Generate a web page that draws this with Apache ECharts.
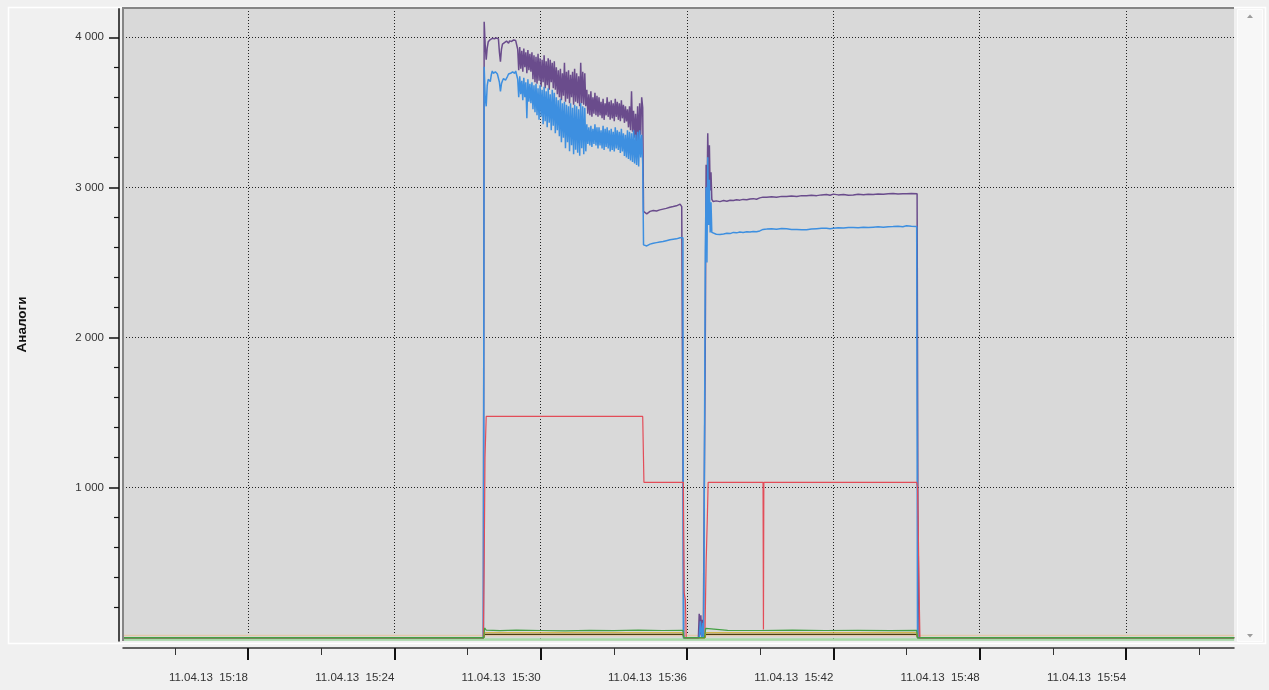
<!DOCTYPE html>
<html><head><meta charset="utf-8">
<script src="https://cdn.jsdelivr.net/npm/echarts@6/dist/echarts.min.js"></script>
<style>html,body{margin:0;padding:0;background:#f0f0f0;overflow:hidden}#c{width:1269px;height:690px}</style>
</head><body><div id="c"></div>
<script>
// ---------- texts / ticks ----------
const DATE_TEXT = '11.04.13';
const Y_NAME = 'Аналоги';
const xMajorTicks = ['15:18','15:24','15:30','15:36','15:42','15:48','15:54'];
const xMinorTicks = ['15:15','15:21','15:27','15:33','15:39','15:45','15:51','15:57'];
const yMajorTicks = [1000,2000,3000,4000];
const yMinorTicks = [200,400,600,800,1200,1400,1600,1800,2200,2400,2600,2800,3200,3400,3600,3800];
// visible range: seconds after 15:00 / values
const xRange = [772.5, 3505.6];
const yRange = [-22, 4195];

// ---------- data (time = seconds after 15:00) ----------
// first run, noisy part
const seg1Times = [1661,1663.5,1666,1668.5,1671,1673.5,1676,1678.5,1681,1683.5,1686,1688.5,1691,1693.5,1696,1698.5,
  1701,1703.5,1706,1708.5,1711,1713.5,1716,1718.5,1721,1723.5,1726,1728.5,1731,1733.5,1736,1738.5,
  1741,1743.5,1746,1748.5,1751,1753.5,1756,1758.5,1761,1763.5,1766,1768.5,1771,1773.5,1776,1778.5,
  1781,1783.5,1786,1788.5,1791,1793.5,1796,1798.5,1801,1803.5,1806,1808.5,1811,1813.5,1816,1818.5,
  1821,1823.5,1826,1828.5,1831,1833.5,1836,1838.5,1841,1843.5,1846,1848.5,1851,1853.5,1856,1858.5,
  1861,1863.5,1866,1868.5,1871,1873.5,1876,1878.5,1881,1883.5,1886,1888.5,1891,1893.5,1896,1898.5,
  1901,1903.5,1906,1908.5,1911,1913.5,1916,1918.5,1921,1923.5,1926,1928.5,1931,1933.5,1936,1938.5,
  1941,1943.5,1946,1948.5,1951,1953.5,1956,1958.5,1961,1963.5,1966,1968.5,1971,1973.5,1976,1978.5,
  1981,1983.5,1986,1988.5,1991,1993.5,1996,1998.5,2001,2003.5,2006,2008.5,2011,2013.5,2016,2018.5,
  2021,2023.5,2026,2028.5,2031,2033.5,2036,2038.5,2041,2043.5,2046,2048.5,2051];
const purpleSeg1 = [4104,3950,3850,3930,3970,3975,3985,3990,3993,3985,3990,3998,3995,3988,3990,3900,
  3838,3920,3955,3950,3965,3972,3975,3968,3960,3976,3980,3972,3970,3982,3985,3978,3990,
  3920,3780,3935,3790,3910,3770,3925,3800,3900,3760,3915,3780,3890,3770,
  3900,3720,3880,3700,3870,3690,3890,3710,3860,3670,3850,3700,3880,3660,3840,3680,3860,3650,3850,3700,3830,3660,3840,3650,
  3800,3620,3780,3600,3790,3580,3760,3610,3830,3570,3770,3590,3780,3560,3750,3600,3770,3550,3790,3570,3760,3560,3740,3540,3830,3560,3770,3550,3760,3540,
  3650,3490,3620,3480,3640,3470,3600,3490,3630,3480,3610,3470,
  3600,3480,3570,3460,3590,3450,3560,3480,3600,3470,3570,3450,3580,3460,3560,3440,3590,3470,3570,3450,3560,3440,3580,3460,3550,3430,3540,3440,
  3520,3400,3540,3380,3640,3370,3510,3330,3490,3290,3540,3280,3560,3350,3600,3530];
const blueSeg1 = [3804,3600,3540,3680,3720,3715,3705,3750,3775,3760,3755,3770,3765,3755,3760,3700,
  3640,3690,3710,3725,3735,3715,3720,3740,3755,3762,3760,3768,3770,3758,3760,3775,3780,
  3720,3600,3740,3620,3710,3580,3730,3600,3700,3460,3720,3570,3690,3560,
  3700,3520,3680,3500,3690,3480,3660,3450,3680,3470,3650,3420,3670,3440,3640,3400,3660,3430,3620,3380,3650,3410,3630,3360,
  3600,3380,3580,3340,3590,3300,3560,3330,3570,3260,3550,3300,3540,3240,3560,3280,3530,3220,3550,3250,3540,3230,3520,3210,3560,3260,3540,3220,3530,3240,
  3420,3290,3400,3280,3410,3270,3390,3290,3420,3280,3400,3260,
  3400,3280,3380,3260,3410,3250,3390,3270,3400,3260,3380,3240,3390,3250,3370,3240,3400,3260,3380,3250,3370,3230,3390,3240,3360,3210,3350,3200,
  3380,3190,3370,3180,3360,3170,3380,3160,3350,3150,3370,3140,3380,3200,3350,3160];

const purpleHead = [[772,0],[1659,0]];
const purpleTail = [[2053,2840],[2057,2839],[2061,2824],[2069,2840],[2077,2846],[2085,2843],[2093,2850],
  [2101,2855],[2109,2860],[2118,2868],[2126,2872],[2134,2877],[2143,2888],[2147,2872],[2149,2884],[2152,0],
  [2188,0],[2190,160],[2192,20],[2194,150],[2196,10],[2198,120],[2200,0],[2203,0],
  [2205,2000],[2207,3150],[2209,2850],[2211,3360],[2213,3050],[2215,3280],[2217,2980],[2219,3100],[2221,2920],
  [2224,2906],[2232,2910],[2241,2905],[2250,2912],[2258,2908],[2266,2914],[2274,2912],[2282,2918],[2290,2915],
  [2298,2920],[2307,2917],[2315,2922],[2323,2925],[2331,2921],[2339,2930],[2347,2935],[2356,2935],[2368,2938],
  [2380,2934],[2393,2940],[2405,2939],[2417,2942],[2430,2940],[2442,2945],[2454,2944],[2466,2947],[2479,2945],
  [2491,2950],[2503,2952],[2512,2948],[2520,2955],[2532,2950],[2545,2953],[2557,2947],[2569,2950],[2581,2954],
  [2594,2951],[2606,2955],[2618,2952],[2630,2956],[2643,2955],[2655,2958],[2667,2959],[2679,2956],[2691,2958],
  [2700,2957],[2712,2959],[2726,2957],[2728,850],[2729,520],[2731,0],[3506,0]];

const blueHead = [[772,0],[1659,0]];
const blueTail = [[2053,2617],[2057,2617],[2061,2610],[2069,2622],[2077,2628],[2085,2632],[2093,2636],
  [2101,2639],[2109,2645],[2118,2651],[2126,2654],[2134,2657],[2143,2664],[2147,2666],[2150,2665],[2151,0],
  [2190,0],[2193,110],[2196,0],[2199,100],[2201,0],[2203,0],
  [2205,2600],[2207,3000],[2209,2500],[2211,3200],[2213,2750],[2215,3050],[2217,2700],[2219,2900],[2221,2700],
  [2224,2691],[2232,2688],[2241,2686],[2250,2690],[2258,2694],[2266,2692],[2274,2700],[2282,2697],[2290,2703],
  [2298,2700],[2307,2704],[2315,2702],[2323,2706],[2331,2704],[2339,2710],[2347,2720],[2356,2722],[2368,2725],
  [2380,2721],[2393,2726],[2405,2724],[2417,2720],[2430,2719],[2442,2717],[2454,2717],[2466,2722],[2479,2725],
  [2491,2727],[2503,2728],[2512,2725],[2520,2728],[2532,2731],[2545,2729],[2557,2733],[2569,2733],[2581,2731],
  [2594,2735],[2606,2733],[2618,2735],[2630,2737],[2643,2734],[2655,2738],[2667,2739],[2679,2741],[2691,2738],
  [2700,2744],[2712,2741],[2725,2740],[2727,0],[3506,0]];

const redPts = [[772,0],[1659,0],[1661,500],[1663,1200],[1666,1474],[2051,1474],[2054,1035],[2151,1035],
  [2153,300],[2156,250],[2158,0],[2204,0],[2207,500],[2210,800],[2212,1035],[2347,1035],[2348,55],[2349,1035],
  [2725,1035],[2727,1000],[2729,700],[2731,300],[2733,0],[3506,0]];
const greenPts = [[772,0],[1660,0],[1662,65],[1666,50],[1700,47],[1740,50],[1800,48],[1860,46],[1920,49],
  [1980,47],[2040,50],[2100,48],[2150,49],[2152,0],[2203,0],[2206,62],[2210,50],[2260,49],[2340,48],[2420,50],
  [2500,48],[2580,49],[2660,47],[2725,49],[2727,0],[3506,0]];
const olivePts = [[772,0],[1660,0],[1662,33],[2150,33],[2152,0],[2204,0],[2206,33],[2725,33],[2727,0],[3506,0]];
const darkPts = [[772,0],[1660,0],[1662,22],[2150,22],[2152,0],[2204,0],[2206,22],[2725,22],[2727,0],[3506,0]];
const tanPts = [[772,15],[3506,15]];
const paleGreenPts = [[772,-12],[3506,-12]];

// ---------- build ----------
const toSec = s => { const [h,m] = s.split(':').map(Number); return (h-15)*3600 + m*60; };
const zip = (ts, vs) => ts.map((t,i) => [t, vs[i]]);
const purple = purpleHead.concat(zip(seg1Times, purpleSeg1), purpleTail);
const blue = blueHead.concat(zip(seg1Times, blueSeg1), blueTail);

const FONT = 'Liberation Sans, Arial, sans-serif';
const fmtY = v => String(v).replace(/\B(?=(\d{3})+(?!\d))/g, ' ');
const fmtX = v => { const m = Math.round(v/60); const hh = 15 + Math.floor(m/60); const mm = m % 60;
  return DATE_TEXT + '  ' + hh + ':' + (mm < 10 ? '0' : '') + mm; };

const dotted = {color:'#222', width:1, type:[1,2]};
const line = (name, data, color, width, z) => ({
  name, type:'line', data, showSymbol:false, symbol:'none', z: z, sampling:null,
  lineStyle:{color, width}, itemStyle:{color}, emphasis:{disabled:true}, clip:true
});

const chart = echarts.init(document.getElementById('c'), null, {renderer:'canvas'});
chart.setOption({
  animation:false,
  backgroundColor:'#f0f0f0',
  textStyle:{fontFamily:FONT},
  grid:{left:123, top:8, width:1111, height:633, show:true, backgroundColor:'#d9d9d9', borderWidth:0},
  xAxis:[{
    type:'value', min:xRange[0], max:xRange[1], position:'bottom', offset:7,
    axisLine:{show:true, onZero:false, lineStyle:{color:'#333', width:1.5}},
    axisTick:{show:true, customValues:xMajorTicks.map(toSec), length:12, lineStyle:{color:'#111', width:2}},
    axisLabel:{show:true, customValues:xMajorTicks.map(toSec), formatter:fmtX, align:'right', margin:24,
      fontSize:11.5, color:'#333', fontFamily:FONT},
    splitLine:{show:true, lineStyle:dotted}
  },{
    type:'value', min:xRange[0], max:xRange[1], position:'bottom', offset:7,
    axisLine:{show:false, onZero:false},
    axisTick:{show:true, customValues:xMinorTicks.map(toSec), length:7, lineStyle:{color:'#333', width:1}},
    axisLabel:{show:false}, splitLine:{show:false}
  }],
  yAxis:[{
    type:'value', min:yRange[0], max:yRange[1], position:'left', offset:4,
    axisLine:{show:true, onZero:false, lineStyle:{color:'#111', width:1.5}},
    axisTick:{show:true, customValues:yMajorTicks, length:10, lineStyle:{color:'#111', width:1.5}},
    axisLabel:{show:true, customValues:yMajorTicks, formatter:fmtY, margin:15, fontSize:11.5, color:'#333', fontFamily:FONT},
    splitLine:{show:true, lineStyle:dotted},
    name:Y_NAME, nameLocation:'middle', nameRotate:90, nameGap:90,
    nameTextStyle:{fontWeight:'bold', fontSize:13.5, color:'#111', fontFamily:FONT}
  },{
    type:'value', min:yRange[0], max:yRange[1], position:'left', offset:4,
    axisLine:{show:false, onZero:false},
    axisTick:{show:true, customValues:yMinorTicks, length:5, lineStyle:{color:'#111', width:1.2}},
    axisLabel:{show:false}, splitLine:{show:false}
  }],
  series:[
    line('tan', tanPts, '#e3c9aa', 1.5, 2),
    line('pale', paleGreenPts, '#a8dba8', 2.5, 2),
    line('purple', purple, '#6a4c8c', 1.5, 3),
    line('blue', blue, '#3d8fe0', 1.5, 4),
    line('red', redPts, '#e34c58', 1.2, 5),
    line('dark', darkPts, '#4d3f14', 1.2, 6),
    line('olive', olivePts, '#cfa91c', 1.2, 6),
    line('green', greenPts, '#43a043', 1.2, 7)
  ],
  graphic:[
    {type:'rect', silent:true, z:100, shape:{x:8.5, y:7.5, width:1257, height:636}, style:{fill:null, stroke:'#ffffff', lineWidth:1.5}},
    {type:'line', silent:true, z:101, shape:{x1:122, y1:8, x2:1234, y2:8}, style:{stroke:'#858585', lineWidth:2}},
    {type:'line', silent:true, z:101, shape:{x1:123, y1:7, x2:123, y2:641}, style:{stroke:'#858585', lineWidth:2}},
    {type:'rect', silent:true, z:100, shape:{x:1237.5, y:9.5, width:25, height:632}, style:{fill:'#f7f7f7', stroke:'#fdfdfd', lineWidth:1}},
    {type:'polygon', silent:true, z:101, shape:{points:[[1247,18],[1253,18],[1250,14.5]]}, style:{fill:'#9c9c9c'}},
    {type:'polygon', silent:true, z:101, shape:{points:[[1247,634],[1253,634],[1250,637.5]]}, style:{fill:'#9c9c9c'}}
  ]
});
</script></body></html>
